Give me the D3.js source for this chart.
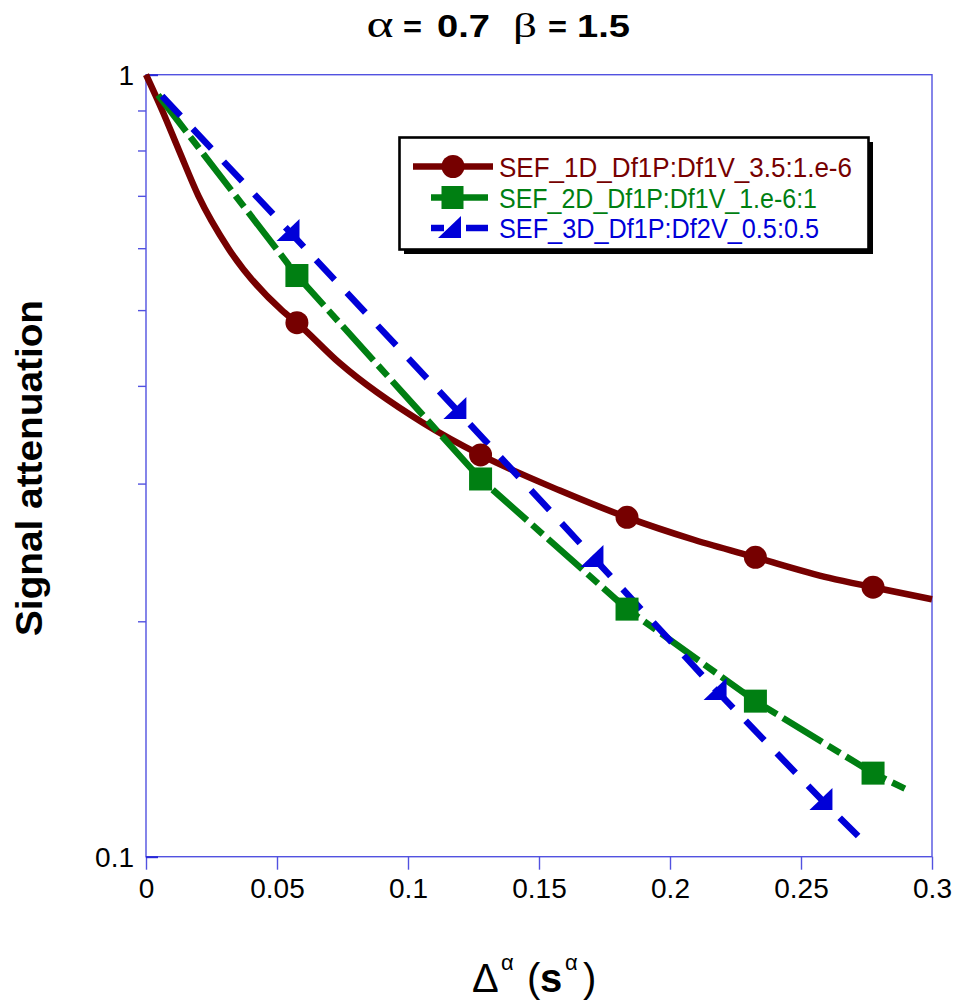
<!DOCTYPE html>
<html><head><meta charset="utf-8">
<script src="https://cdn.jsdelivr.net/npm/d3@7"></script>
<style>body{margin:0;background:#fff}</style>
</head><body><svg id="c" width="953" height="1003"></svg>
<script>
// ---- data ----
const redX = [0, 0.0062, 0.0126, 0.0200, 0.0314, 0.0518, 0.0576, 0.074, 0.1058, 0.1277, 0.158, 0.1836, 0.2094, 0.2326, 0.2608, 0.2775, 0.3];
const redY = [1, 0.9, 0.8, 0.7, 0.6, 0.5, 0.4818, 0.4275, 0.3586, 0.3264, 0.2939, 0.2716, 0.2541, 0.2415, 0.2273, 0.2211, 0.2134];
const redMarkX = [0.0576, 0.1277, 0.1836, 0.2326, 0.2775];
const redMarkY = [0.4818, 0.3264, 0.2716, 0.2415, 0.2211];

const greenX = [0.0046, 0.0576, 0.1277, 0.1836, 0.2326, 0.2775, 0.2916];
const greenY = [0.942, 0.5536, 0.3041, 0.2073, 0.1581, 0.1279, 0.1213];
const greenMarkX = [0.0576, 0.1277, 0.1836, 0.2326, 0.2775];
const greenMarkY = [0.5536, 0.3041, 0.2073, 0.1581, 0.1279];

const blueX = [0.0061, 0.0542, 0.1179, 0.1702, 0.2172, 0.2576, 0.2718];
const blueY = [0.939, 0.633, 0.3748, 0.2424, 0.1638, 0.1185, 0.1063];
const blueMarkX = [0.0542, 0.1179, 0.1702, 0.2172, 0.2576];
const blueMarkY = [0.633, 0.3748, 0.2424, 0.1638, 0.1185];

const xTicks = [0, 0.05, 0.1, 0.15, 0.2, 0.25, 0.3];
const xTickLabels = ["0", "0.05", "0.1", "0.15", "0.2", "0.25", "0.3"];
const yMajor = [1, 0.1];
const yMajorLabels = ["1", "0.1"];
const yMinor = [0.9, 0.8, 0.7, 0.6, 0.5, 0.4, 0.3, 0.2];
const legendLabels = ["SEF_1D_Df1P:Df1V_3.5:1.e-6", "SEF_2D_Df1P:Df1V_1.e-6:1", "SEF_3D_Df1P:Df2V_0.5:0.5"];
const colors = ["#760000", "#007f12", "#0000d8"];

// ---- layout ----
const svg = d3.select("#c");
const L = 146, R = 932, T = 74.7, B = 856.7;
const x = d3.scaleLinear().domain([0, 0.3]).range([L, R]);
const y = d3.scaleLog().domain([0.1, 1]).range([B, T]);
const axisColor = "#5252e0";
const narrow = "'Liberation Sans Narrow', 'Arial Narrow', Arial, sans-serif";
const sans = "'Liberation Sans', Arial, sans-serif";
const serif = "'Liberation Serif', 'Times New Roman', serif";

// frame
svg.append("rect").attr("x", L).attr("y", T).attr("width", R - L).attr("height", B - T)
  .attr("fill", "none").attr("stroke", axisColor).attr("stroke-width", 1.4);

// x axis
const xAxis = d3.axisBottom(x).tickValues(xTicks).tickFormat((d, i) => xTickLabels[i]).tickSize(13).tickPadding(8);
const gx = svg.append("g").attr("transform", `translate(0,${B})`).call(xAxis);
gx.select(".domain").remove();
gx.selectAll("line").attr("stroke", axisColor).attr("stroke-width", 1.4);
gx.selectAll("text").attr("font-family", narrow).attr("font-size", 28).attr("fill", "#000");

// y axis minor ticks (outside) + major ticks (inside)
const yAxisMinor = d3.axisLeft(y).tickValues(yMinor).tickFormat("").tickSize(8);
const gy = svg.append("g").attr("transform", `translate(${L},0)`).call(yAxisMinor);
gy.select(".domain").remove();
gy.selectAll("line").attr("stroke", axisColor).attr("stroke-width", 1.4);
const yAxisMajor = d3.axisRight(y).tickValues(yMajor).tickFormat("").tickSize(12);
const gy2 = svg.append("g").attr("transform", `translate(${L},0)`).call(yAxisMajor);
gy2.select(".domain").remove();
gy2.selectAll("line").attr("stroke", "#2a2ad8").attr("stroke-width", 2);
svg.selectAll(".ylab").data(yMajor).join("text")
  .attr("x", 134).attr("y", d => y(d) + 10).attr("text-anchor", "end")
  .attr("font-family", narrow).attr("font-size", 28).text((d, i) => yMajorLabels[i]);

// lines
const lineSmooth = d3.line().x(d => x(d[0])).y(d => y(d[1])).curve(d3.curveMonotoneX);
svg.append("path").datum(redX.map((v, i) => [v, redY[i]])).attr("d", lineSmooth).attr("fill", "none")
  .attr("stroke", colors[0]).attr("stroke-width", 6.5);
const lineLin = d3.line().x(d => x(d[0])).y(d => y(d[1]));
svg.append("path").datum(greenX.map((v, i) => [v, greenY[i]])).attr("d", lineLin).attr("fill", "none")
  .attr("stroke", colors[1]).attr("stroke-width", 6.5).attr("stroke-dasharray", "46 7 14 7");
svg.append("path").datum(blueX.map((v, i) => [v, blueY[i]])).attr("d", lineLin).attr("fill", "none")
  .attr("stroke", colors[2]).attr("stroke-width", 6.5).attr("stroke-dasharray", "27 18");

// markers
const triPath = "M-11.5,11 L11.5,-11 L11.5,11 Z";
svg.selectAll(".rm").data(redMarkX.map((v, i) => [v, redMarkY[i]])).join("circle")
  .attr("cx", d => x(d[0])).attr("cy", d => y(d[1])).attr("r", 11.5).attr("fill", colors[0]);
svg.selectAll(".gm").data(greenMarkX.map((v, i) => [v, greenMarkY[i]])).join("rect")
  .attr("x", d => x(d[0]) - 11.5).attr("y", d => y(d[1]) - 11.5).attr("width", 23).attr("height", 23).attr("fill", colors[1]);
svg.selectAll(".bm").data(blueMarkX.map((v, i) => [v, blueMarkY[i]])).join("path")
  .attr("transform", d => `translate(${x(d[0])},${y(d[1])})`).attr("d", triPath).attr("fill", colors[2]);

// legend
const lg = svg.append("g");
lg.append("rect").attr("x", 404).attr("y", 142).attr("width", 469).attr("height", 112).attr("fill", "#000");
lg.append("rect").attr("x", 399.5).attr("y", 137.5).attr("width", 469).attr("height", 112)
  .attr("fill", "#fff").attr("stroke", "#000").attr("stroke-width", 2.6);
const rowY = [166.5, 197.5, 228];
lg.append("line").attr("x1", 413).attr("x2", 493).attr("y1", rowY[0]).attr("y2", rowY[0]).attr("stroke", colors[0]).attr("stroke-width", 6.5);
lg.append("circle").attr("cx", 453).attr("cy", rowY[0]).attr("r", 11.5).attr("fill", colors[0]);
lg.append("line").attr("x1", 431).attr("x2", 488).attr("y1", rowY[1]).attr("y2", rowY[1]).attr("stroke", colors[1]).attr("stroke-width", 6.5);
lg.append("rect").attr("x", 441.5).attr("y", rowY[1] - 11.5).attr("width", 22).attr("height", 23).attr("fill", colors[1]);
lg.append("line").attr("x1", 431).attr("x2", 444).attr("y1", rowY[2]).attr("y2", rowY[2]).attr("stroke", colors[2]).attr("stroke-width", 6.5);
lg.append("line").attr("x1", 466).attr("x2", 488).attr("y1", rowY[2]).attr("y2", rowY[2]).attr("stroke", colors[2]).attr("stroke-width", 6.5);
lg.append("path").attr("transform", `translate(449.5,${rowY[2] - 1})`).attr("d", triPath).attr("fill", colors[2]);
lg.selectAll(".lt").data(legendLabels).join("text")
  .attr("x", 499).attr("y", (d, i) => rowY[i] + 10)
  .attr("font-family", sans).attr("font-size", 27).attr("textLength", (d, i) => [353, 318, 320][i])
  .attr("lengthAdjust", "spacingAndGlyphs")
  .attr("fill", (d, i) => colors[i]).text(d => d);

// title pieces
const titleParts = [
  {t: "α", x: 366.5, w: 27, f: serif, s: 38, b: "normal"},
  {t: "=", x: 403, w: 19, f: sans, s: 30, b: "bold"},
  {t: "0.7", x: 437, w: 53, f: sans, s: 31, b: "bold"},
  {t: "β", x: 513, w: 24, f: serif, s: 34, b: "normal"},
  {t: "=", x: 548, w: 19, f: sans, s: 30, b: "bold"},
  {t: "1.5", x: 577, w: 53, f: sans, s: 31, b: "bold"}
];
svg.selectAll(".tt").data(titleParts).join("text")
  .attr("x", d => d.x).attr("y", 37).attr("font-family", d => d.f).attr("font-size", d => d.s)
  .attr("font-weight", d => d.b).attr("textLength", d => d.w).attr("lengthAdjust", "spacingAndGlyphs")
  .text(d => d.t);

// y label
svg.append("text").attr("transform", "translate(42,468) rotate(-90)").attr("text-anchor", "middle")
  .attr("font-family", sans).attr("font-size", 37).attr("font-weight", "bold")
  .attr("textLength", 336).attr("lengthAdjust", "spacingAndGlyphs")
  .text("Signal attenuation");

// x label
const xParts = [
  {t: "Δ", x: 472, y: 992, s: 40, f: narrow, b: "normal"},
  {t: "α", x: 501, y: 970, s: 22, f: narrow, b: "normal"},
  {t: "(", x: 527, y: 992, s: 40, f: narrow, b: "normal"},
  {t: "s", x: 540, y: 992, s: 40, f: sans, b: "bold"},
  {t: "α", x: 565, y: 970, s: 22, f: narrow, b: "normal"},
  {t: ")", x: 583, y: 992, s: 40, f: narrow, b: "normal"}
];
svg.selectAll(".xt").data(xParts).join("text")
  .attr("x", d => d.x).attr("y", d => d.y).attr("font-family", d => d.f).attr("font-size", d => d.s)
  .attr("font-weight", d => d.b).text(d => d.t);
</script></body></html>
